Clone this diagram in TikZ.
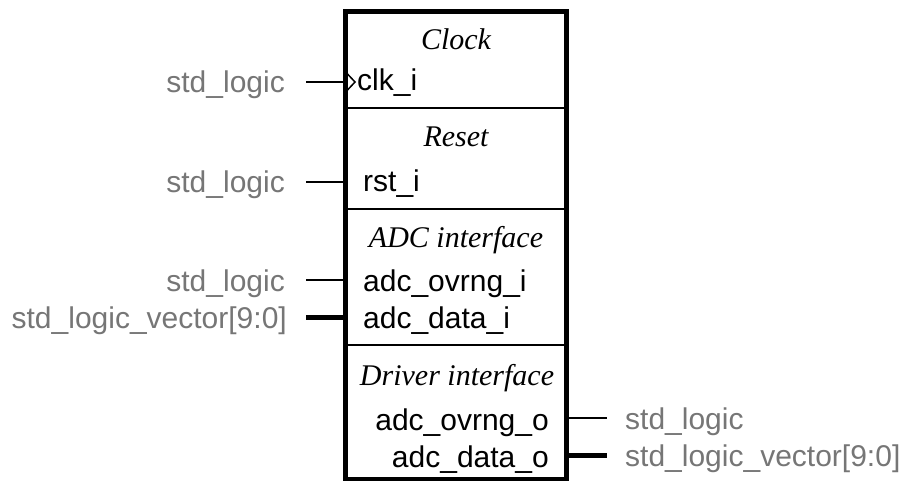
\documentclass[tikz,border=0pt]{standalone}
\usepackage{fontspec}
\setmainfont{Liberation Sans}
\newfontfamily\hdrfont{Liberation Serif}
\definecolor{sigGray}{RGB}{118,118,118}
\begin{document}
\begin{tikzpicture}[x=1pt,y=-1pt,
  port/.style={inner sep=0pt, font=\fontsize{30}{36}\selectfont},
  sig/.style={inner sep=0pt, text=sigGray, font=\fontsize{30}{36}\selectfont},
  hdr/.style={inner sep=0pt, anchor=base, font=\hdrfont\itshape\fontsize{30}{36}\selectfont},
  thin wire/.style={line width=2pt},
  bus wire/.style={line width=5pt},
  divider/.style={line width=2pt},
  frame/.style={line width=5pt, line join=miter},
]
\useasboundingbox (0,0) rectangle (904,481);
\clip (0,0) rectangle (904,481);

% entity frame and section dividers
\draw[frame] (345,12) rectangle (566,479);
\draw[divider] (345,108) -- (566,108);
\draw[divider] (345,209) -- (566,209);
\draw[divider] (345,345) -- (566,345);

% section headers
\node[hdr] (hClk) at (456,50) {Clock};
\node[hdr] (hRst) at (456,147) {Reset};
\node[hdr] (hAdc) at (456,247) {ADC interface};
\node[hdr] (hDrv) at (457,385) {Driver interface};

% pins on the frame
\coordinate (pClk) at (345,82);
\coordinate (pRst) at (345,182);
\coordinate (pOvI) at (345,280);
\coordinate (pDatI) at (345,317);
\coordinate (pOvO) at (566,418);
\coordinate (pDatO) at (566,455);

% port names
\node[port, anchor=base west] (nClk) at (357,91) {clk\_i};
\node[port, anchor=base west] (nRst) at (363,192) {rst\_i};
\node[port, anchor=base west] (nOvI) at (363,291) {adc\_ovrng\_i};
\node[port, anchor=base west] (nDatI) at (363,328) {adc\_data\_i};
\node[port, anchor=base east] (nOvO) at (549,430) {adc\_ovrng\_o};
\node[port, anchor=base east] (nDatO) at (549,467) {adc\_data\_o};

% signal types
\node[sig, anchor=base east] (tClk) at (285,93) {std\_logic};
\node[sig, anchor=base east] (tRst) at (285,193) {std\_logic};
\node[sig, anchor=base east] (tOvI) at (285,291) {std\_logic};
\node[sig, anchor=base east] (tDatI) at (287,328) {std\_logic\_vector[9:0]};
\node[sig, anchor=base west] (tOvO) at (625,429) {std\_logic};
\node[sig, anchor=base west] (tDatO) at (625,466) {std\_logic\_vector[9:0]};

% wire stubs
\coordinate (wClk) at (306,82);
\coordinate (wRst) at (306,182);
\coordinate (wOvI) at (306,280);
\coordinate (wDatI) at (306,317);
\coordinate (wOvO) at (607,418);
\coordinate (wDatO) at (607,455);
\draw[thin wire] (wClk) -- (pClk);
\draw[thin wire] (wRst) -- (pRst);
\draw[thin wire] (wOvI) -- (pOvI);
\draw[bus wire] (wDatI) -- (pDatI);
\draw[thin wire] (pOvO) -- (wOvO);
\draw[bus wire] (pDatO) -- (wDatO);

% clock edge marker
\draw[line width=1.5pt] ([xshift=2.5pt,yshift=-8pt]pClk) -- ([xshift=10pt]pClk) -- ([xshift=2.5pt,yshift=8pt]pClk);
\end{tikzpicture}
\end{document}
